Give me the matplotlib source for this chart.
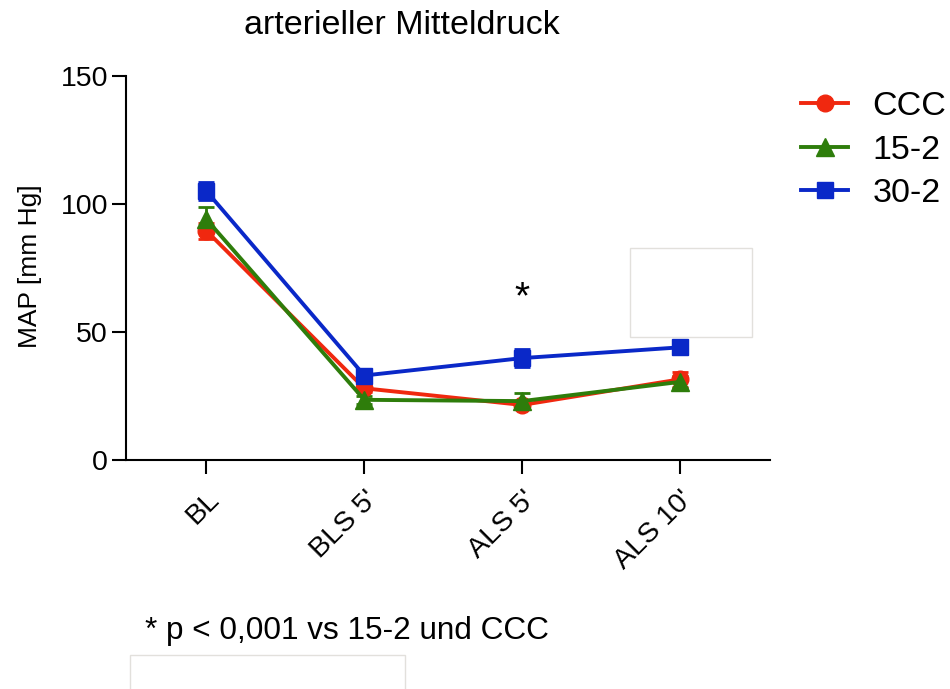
import matplotlib
matplotlib.use('Agg')
import matplotlib.pyplot as plt
from matplotlib.patches import Rectangle

plt.rcParams['font.family'] = ['Liberation Sans', 'DejaVu Sans']

zeitpunkte = ['BL', "BLS 5'", "ALS 5'", "ALS 10'"]

ccc = [89.5, 28.0, 21.5, 31.5]
ccc_err = [3.0, 1.5, 1.5, 3.0]
g15_2 = [94.0, 23.5, 23.0, 30.5]
g15_2_err = [5.0, 1.5, 3.0, 2.5]
g30_2 = [105.0, 33.0, 39.8, 44.0]
g30_2_err = [3.5, 1.5, 3.5, 2.5]

farben = {'CCC': '#F0280F', '15-2': '#2E7D0B', '30-2': '#0A28C8'}

fig = plt.figure(figsize=(9.5, 6.89), dpi=100)
ax = fig.add_axes([0.1326, 0.3324, 0.6779, 0.5573])

x = range(len(zeitpunkte))
stil = dict(lw=2.8, capsize=6, capthick=2, elinewidth=2)
ax.errorbar(x, ccc, yerr=ccc_err, color=farben['CCC'], marker='o', markersize=12,
            label='CCC', **stil)
ax.errorbar(x, g15_2, yerr=g15_2_err, color=farben['15-2'], marker='^', markersize=13,
            label='15-2', **stil)
ax.errorbar(x, g30_2, yerr=g30_2_err, color=farben['30-2'], marker='s', markersize=12,
            label='30-2', **stil)

ax.text(2, 63, '*', fontsize=28, ha='center', va='center')

ax.set_xlim(-0.51, 3.57)
ax.set_ylim(0, 150)
ax.set_yticks([0, 50, 100, 150])
ax.set_xticks(list(x))
ax.set_xticklabels(zeitpunkte, rotation=45, ha='right', rotation_mode='anchor')
ax.tick_params(axis='both', labelsize=20.5, length=10, width=1.5, direction='out')
ax.tick_params(axis='x', pad=9)
ax.tick_params(axis='y', pad=3)
for s in ['top', 'right']:
    ax.spines[s].set_visible(False)
for s in ['left', 'bottom']:
    ax.spines[s].set_linewidth(1.5)
ax.set_ylabel('MAP [mm Hg]', fontsize=19)
ax.yaxis.set_label_coords(-0.131, 0.505)

handles, labels = ax.get_legend_handles_labels()
handles = [h[0] for h in handles]
fig.legend(handles, labels, loc='upper left', bbox_to_anchor=(0.843, 0.868), frameon=False,
           fontsize=24.5, handlelength=1.4, handletextpad=0.7, labelspacing=0.37,
           borderpad=0, borderaxespad=0)

fig.text(0.423, 0.963, 'arterieller Mitteldruck', fontsize=24.5, ha='center', va='center')
fig.text(0.153, 0.084, '* p < 0,001 vs 15-2 und CCC', fontsize=22.7, ha='left', va='center')

# weisse Kaesten aus der Vorlage
fig.patches.append(Rectangle((0.663, 0.511), 0.129, 0.129, transform=fig.transFigure,
                             facecolor='white', edgecolor='#E2E0DC', lw=1, zorder=10))
fig.patches.append(Rectangle((0.137, -0.01), 0.289, 0.059, transform=fig.transFigure,
                             facecolor='white', edgecolor='#E2E0DC', lw=1, zorder=10))

fig.savefig('out.png', dpi=100)
